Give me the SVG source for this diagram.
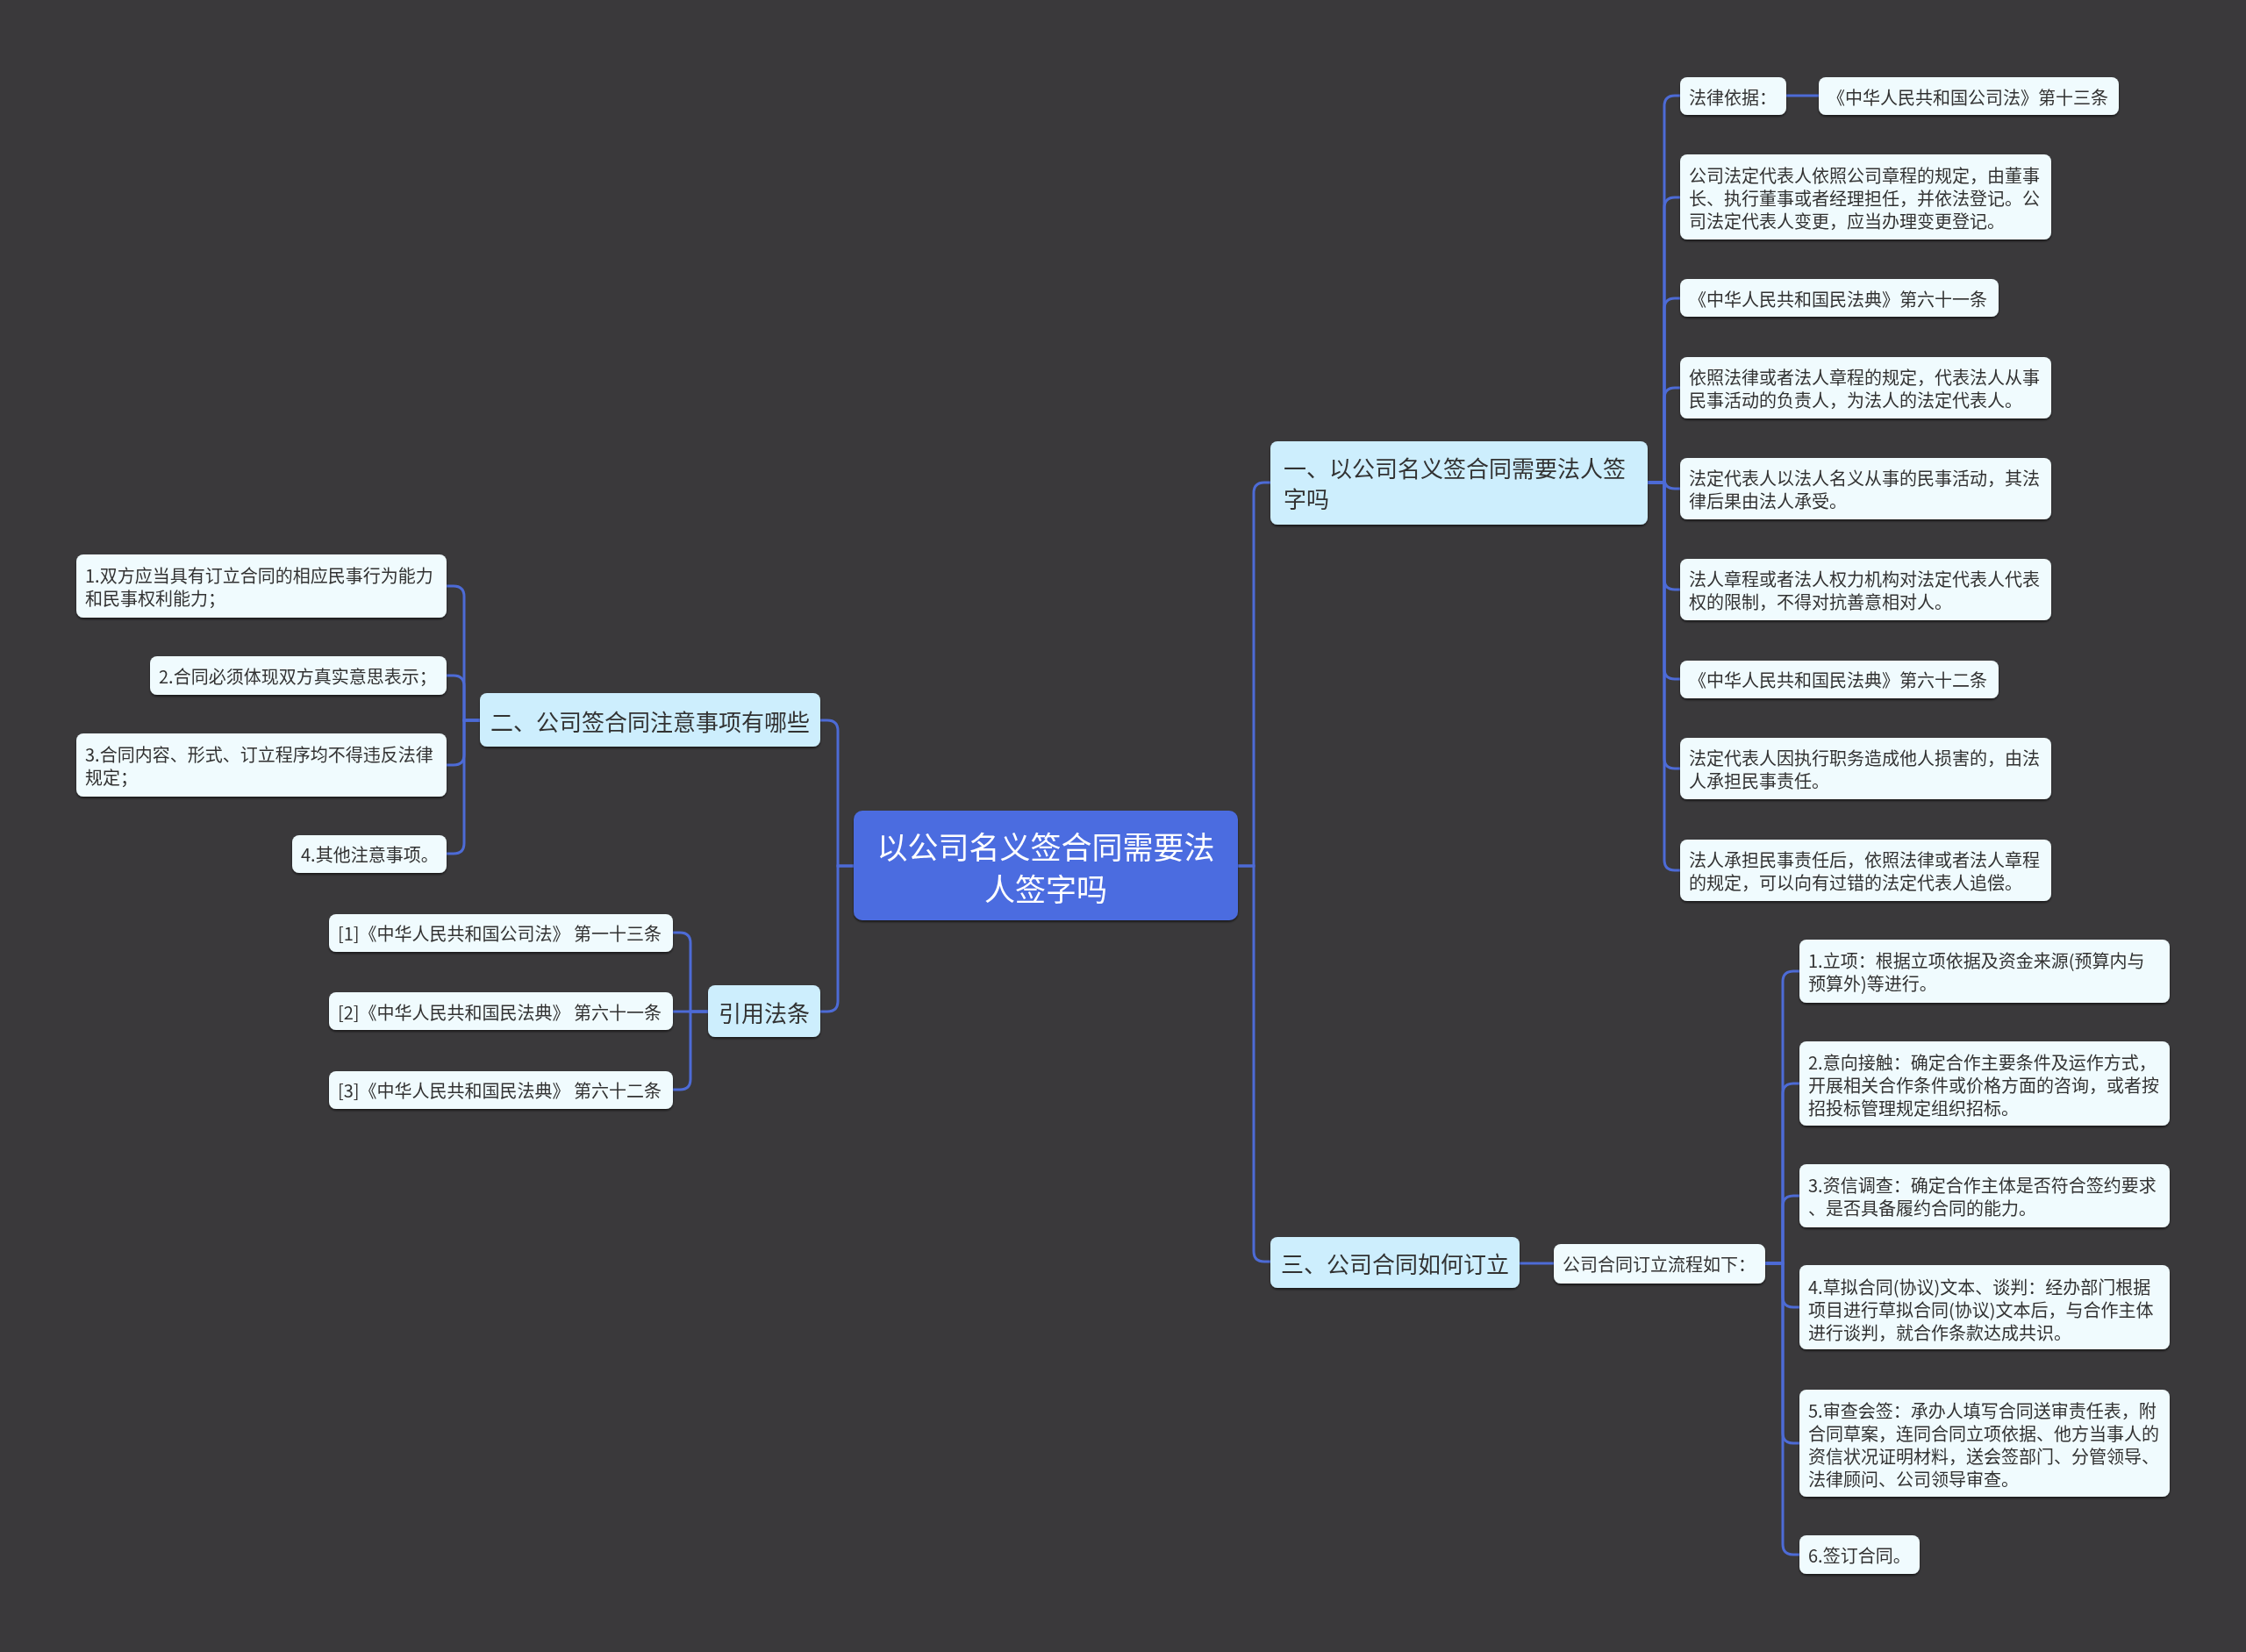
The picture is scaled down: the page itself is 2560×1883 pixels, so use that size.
<svg xmlns="http://www.w3.org/2000/svg" width="2560" height="1883" viewBox="0 0 2560 1883">
<defs>
<style>
.bg{fill:#3a393b}
.ln{fill:none;stroke:#4d6bd6;stroke-width:3}
.root{fill:#4c6ce0}
.br{fill:#cdeefd}
.lf{fill:#f0fbfe}
text{font-family:"Noto Sans CJK SC","Microsoft YaHei",sans-serif;dominant-baseline:central;fill:#333}
.rt{fill:#ffffff;font-size:35px}
.bt{font-size:26px}
.lt{font-size:20px}
.ct{font-size:20px}
</style>
<filter id="sh" x="-5%" y="-10%" width="110%" height="130%">
<feDropShadow dx="0" dy="2" stdDeviation="1.2" flood-color="#000" flood-opacity="0.55"/>
</filter>
</defs>
<rect class="bg" x="0" y="0" width="2560" height="1883"/>

<g id="connectors">
<path class="ln" d="M1411,987 H1429 V562 Q1429,550 1441,550 H1448"/>
<path class="ln" d="M1411,987 H1429 V1426 Q1429,1438 1441,1438 H1448"/>
<path class="ln" d="M973,987 H955 V833 Q955,821 943,821 H935"/>
<path class="ln" d="M973,987 H955 V1141 Q955,1153 943,1153 H935"/>
<path class="ln" d="M1878,550 H1897 V121 Q1897,109 1909,109 H1915"/>
<path class="ln" d="M2036,109 H2073"/>
<path class="ln" d="M1878,550 H1897 V237 Q1897,225 1909,225 H1915"/>
<path class="ln" d="M1878,550 H1897 V352 Q1897,340 1909,340 H1915"/>
<path class="ln" d="M1878,550 H1897 V454 Q1897,442 1909,442 H1915"/>
<path class="ln" d="M1878,550 H1897 V545 Q1897,557 1909,557 H1915"/>
<path class="ln" d="M1878,550 H1897 V660 Q1897,672 1909,672 H1915"/>
<path class="ln" d="M1878,550 H1897 V762 Q1897,774 1909,774 H1915"/>
<path class="ln" d="M1878,550 H1897 V864 Q1897,876 1909,876 H1915"/>
<path class="ln" d="M1878,550 H1897 V980 Q1897,992 1909,992 H1915"/>
<path class="ln" d="M547,821 H529 V680 Q529,668 517,668 H509"/>
<path class="ln" d="M547,821 H529 V782 Q529,770 517,770 H509"/>
<path class="ln" d="M547,821 H529 V860 Q529,872 517,872 H509"/>
<path class="ln" d="M547,821 H529 V961 Q529,973 517,973 H509"/>
<path class="ln" d="M807,1153 H787 V1075 Q787,1063 775,1063 H767"/>
<path class="ln" d="M807,1153 H767"/>
<path class="ln" d="M807,1153 H787 V1230 Q787,1242 775,1242 H767"/>
<path class="ln" d="M1732,1440 H1771"/>
<path class="ln" d="M2012,1440 H2032 V1119 Q2032,1107 2044,1107 H2051"/>
<path class="ln" d="M2012,1440 H2032 V1247 Q2032,1235 2044,1235 H2051"/>
<path class="ln" d="M2012,1440 H2032 V1375 Q2032,1363 2044,1363 H2051"/>
<path class="ln" d="M2012,1440 H2032 V1478 Q2032,1490 2044,1490 H2051"/>
<path class="ln" d="M2012,1440 H2032 V1633 Q2032,1645 2044,1645 H2051"/>
<path class="ln" d="M2012,1440 H2032 V1760 Q2032,1772 2044,1772 H2051"/>
</g>

<g id="root" filter="url(#sh)">
<rect class="root" x="973" y="924" width="438" height="125" rx="10"/>
<text class="rt" x="1192" y="963" text-anchor="middle">以公司名义签合同需要法</text>
<text class="rt" x="1192" y="1011" text-anchor="middle">人签字吗</text>
</g>

<g id="b1" filter="url(#sh)">
<rect class="br" x="1448" y="503" width="430" height="95" rx="8"/>
<text class="bt" x="1463" y="532">一、以公司名义签合同需要法人签</text>
<text class="bt" x="1463" y="567">字吗</text>
</g>
<g id="b2" filter="url(#sh)">
<rect class="br" x="547" y="790" width="388" height="61" rx="8"/>
<text class="bt" x="559" y="821">二、公司签合同注意事项有哪些</text>
</g>
<g id="b3" filter="url(#sh)">
<rect class="br" x="1448" y="1410" width="284" height="58" rx="8"/>
<text class="bt" x="1460" y="1439">三、公司合同如何订立</text>
</g>
<g id="b4" filter="url(#sh)">
<rect class="br" x="807" y="1123" width="128" height="59" rx="8"/>
<text class="bt" x="819" y="1153">引用法条</text>
</g>

<g id="n1a" filter="url(#sh)">
<rect class="lf" x="1915" y="88" width="121" height="43" rx="8"/>
<text class="lt" x="1925" y="110">法律依据：</text>
</g>
<g id="n1b" filter="url(#sh)">
<rect class="lf" x="2073" y="88" width="342" height="43" rx="8"/>
<text class="lt" x="2083" y="110">《中华人民共和国公司法》第十三条</text>
</g>
<g id="n2" filter="url(#sh)">
<rect class="lf" x="1915" y="176" width="423" height="97" rx="8"/>
<text class="lt" x="1925" y="199">公司法定代表人依照公司章程的规定，由董事</text>
<text class="lt" x="1925" y="225">长、执行董事或者经理担任，并依法登记。公</text>
<text class="lt" x="1925" y="251">司法定代表人变更，应当办理变更登记。</text>
</g>
<g id="n3" filter="url(#sh)">
<rect class="lf" x="1915" y="318" width="363" height="43" rx="8"/>
<text class="lt" x="1925" y="340">《中华人民共和国民法典》第六十一条</text>
</g>
<g id="n4" filter="url(#sh)">
<rect class="lf" x="1915" y="407" width="423" height="70" rx="8"/>
<text class="lt" x="1925" y="429">依照法律或者法人章程的规定，代表法人从事</text>
<text class="lt" x="1925" y="455">民事活动的负责人，为法人的法定代表人。</text>
</g>
<g id="n5" filter="url(#sh)">
<rect class="lf" x="1915" y="522" width="423" height="70" rx="8"/>
<text class="lt" x="1925" y="544">法定代表人以法人名义从事的民事活动，其法</text>
<text class="lt" x="1925" y="570">律后果由法人承受。</text>
</g>
<g id="n6" filter="url(#sh)">
<rect class="lf" x="1915" y="637" width="423" height="70" rx="8"/>
<text class="lt" x="1925" y="659">法人章程或者法人权力机构对法定代表人代表</text>
<text class="lt" x="1925" y="685">权的限制，不得对抗善意相对人。</text>
</g>
<g id="n7" filter="url(#sh)">
<rect class="lf" x="1915" y="753" width="363" height="43" rx="8"/>
<text class="lt" x="1925" y="774">《中华人民共和国民法典》第六十二条</text>
</g>
<g id="n8" filter="url(#sh)">
<rect class="lf" x="1915" y="841" width="423" height="70" rx="8"/>
<text class="lt" x="1925" y="863">法定代表人因执行职务造成他人损害的，由法</text>
<text class="lt" x="1925" y="889">人承担民事责任。</text>
</g>
<g id="n9" filter="url(#sh)">
<rect class="lf" x="1915" y="957" width="423" height="70" rx="8"/>
<text class="lt" x="1925" y="979">法人承担民事责任后，依照法律或者法人章程</text>
<text class="lt" x="1925" y="1005">的规定，可以向有过错的法定代表人追偿。</text>
</g>

<g id="d1" filter="url(#sh)">
<rect class="lf" x="87" y="632" width="422" height="72" rx="8"/>
<text class="lt" x="97" y="655">1.双方应当具有订立合同的相应民事行为能力</text>
<text class="lt" x="97" y="681">和民事权利能力；</text>
</g>
<g id="d2" filter="url(#sh)">
<rect class="lf" x="171" y="748" width="338" height="44" rx="8"/>
<text class="lt" x="181" y="770">2.合同必须体现双方真实意思表示；</text>
</g>
<g id="d3" filter="url(#sh)">
<rect class="lf" x="87" y="836" width="422" height="72" rx="8"/>
<text class="lt" x="97" y="859">3.合同内容、形式、订立程序均不得违反法律</text>
<text class="lt" x="97" y="885">规定；</text>
</g>
<g id="d4" filter="url(#sh)">
<rect class="lf" x="333" y="952" width="176" height="43" rx="8"/>
<text class="lt" x="343" y="973">4.其他注意事项。</text>
</g>

<g id="e1" filter="url(#sh)">
<rect class="lf" x="375" y="1042" width="392" height="43" rx="8"/>
<text class="ct" x="385" y="1063">[1]《中华人民共和国公司法》 第一十三条</text>
</g>
<g id="e2" filter="url(#sh)">
<rect class="lf" x="375" y="1131" width="392" height="43" rx="8"/>
<text class="ct" x="385" y="1153">[2]《中华人民共和国民法典》 第六十一条</text>
</g>
<g id="e3" filter="url(#sh)">
<rect class="lf" x="375" y="1221" width="392" height="43" rx="8"/>
<text class="ct" x="385" y="1242">[3]《中华人民共和国民法典》 第六十二条</text>
</g>

<g id="m1" filter="url(#sh)">
<rect class="lf" x="1771" y="1418" width="241" height="45" rx="8"/>
<text class="lt" x="1781" y="1440">公司合同订立流程如下：</text>
</g>
<g id="f1" filter="url(#sh)">
<rect class="lf" x="2051" y="1071" width="422" height="72" rx="8"/>
<text class="lt" x="2061" y="1094">1.立项：根据立项依据及资金来源(预算内与</text>
<text class="lt" x="2061" y="1120">预算外)等进行。</text>
</g>
<g id="f2" filter="url(#sh)">
<rect class="lf" x="2051" y="1187" width="422" height="96" rx="8"/>
<text class="lt" x="2061" y="1210">2.意向接触：确定合作主要条件及运作方式，</text>
<text class="lt" x="2061" y="1236">开展相关合作条件或价格方面的咨询，或者按</text>
<text class="lt" x="2061" y="1262">招投标管理规定组织招标。</text>
</g>
<g id="f3" filter="url(#sh)">
<rect class="lf" x="2051" y="1327" width="422" height="72" rx="8"/>
<text class="lt" x="2061" y="1350">3.资信调查：确定合作主体是否符合签约要求</text>
<text class="lt" x="2061" y="1376">、是否具备履约合同的能力。</text>
</g>
<g id="f4" filter="url(#sh)">
<rect class="lf" x="2051" y="1442" width="422" height="96" rx="8"/>
<text class="lt" x="2061" y="1466">4.草拟合同(协议)文本、谈判：经办部门根据</text>
<text class="lt" x="2061" y="1492">项目进行草拟合同(协议)文本后，与合作主体</text>
<text class="lt" x="2061" y="1518">进行谈判，就合作条款达成共识。</text>
</g>
<g id="f5" filter="url(#sh)">
<rect class="lf" x="2051" y="1584" width="422" height="122" rx="8"/>
<text class="lt" x="2061" y="1607">5.审查会签：承办人填写合同送审责任表，附</text>
<text class="lt" x="2061" y="1633">合同草案，连同合同立项依据、他方当事人的</text>
<text class="lt" x="2061" y="1659">资信状况证明材料，送会签部门、分管领导、</text>
<text class="lt" x="2061" y="1685">法律顾问、公司领导审查。</text>
</g>
<g id="f6" filter="url(#sh)">
<rect class="lf" x="2051" y="1750" width="137" height="44" rx="8"/>
<text class="lt" x="2061" y="1772">6.签订合同。</text>
</g>
</svg>
